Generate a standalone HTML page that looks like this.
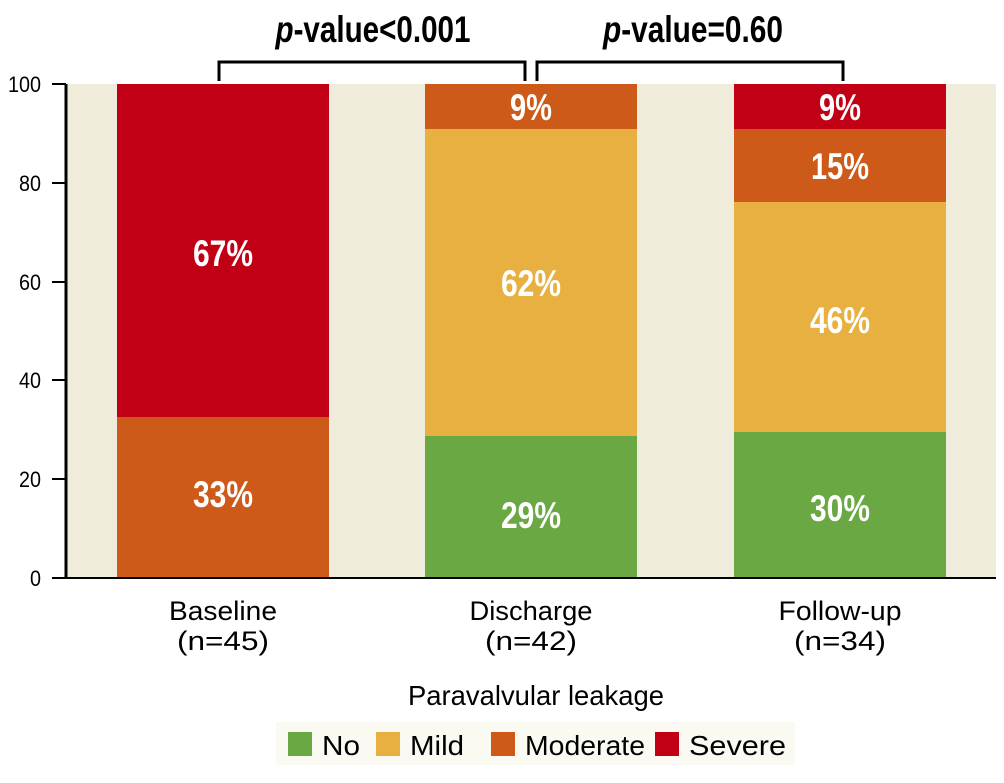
<!DOCTYPE html>
<html><head><meta charset="utf-8"><style>
html,body{margin:0;padding:0;background:#fff;}
svg text{font-family:"Liberation Sans Narrow","Liberation Sans",sans-serif;}
</style></head><body>
<svg width="1004" height="778" viewBox="0 0 1004 778" xmlns="http://www.w3.org/2000/svg">
<rect x="66" y="84" width="930" height="494" fill="#f0ecdb"/>
<rect x="117" y="84" width="212" height="333" fill="#c20015"/>
<rect x="117" y="417" width="212" height="161" fill="#cd5a18"/>
<rect x="425" y="84" width="212" height="45" fill="#cd5a18"/>
<rect x="425" y="129" width="212" height="307" fill="#e8b040"/>
<rect x="425" y="436" width="212" height="142" fill="#69a843"/>
<rect x="734" y="84" width="212" height="45" fill="#c20015"/>
<rect x="734" y="129" width="212" height="73" fill="#cd5a18"/>
<rect x="734" y="202" width="212" height="230" fill="#e8b040"/>
<rect x="734" y="432" width="212" height="146" fill="#69a843"/>
<line x1="66" y1="84" x2="66" y2="579" stroke="#000" stroke-width="3"/>
<line x1="65" y1="578" x2="996" y2="578" stroke="#000" stroke-width="2"/>
<g stroke="#000" stroke-width="2">
<line x1="52" y1="84" x2="66" y2="84"/><line x1="52" y1="183" x2="66" y2="183"/>
<line x1="52" y1="282" x2="66" y2="282"/><line x1="52" y1="380" x2="66" y2="380"/>
<line x1="52" y1="479" x2="66" y2="479"/><line x1="52" y1="578" x2="66" y2="578"/>
</g>
<g font-size="22" text-anchor="end" fill="#000">
<text x="41" y="92" textLength="33" lengthAdjust="spacingAndGlyphs">100</text>
<text x="41" y="191" textLength="22" lengthAdjust="spacingAndGlyphs">80</text>
<text x="41" y="290" textLength="22" lengthAdjust="spacingAndGlyphs">60</text>
<text x="41" y="388" textLength="22" lengthAdjust="spacingAndGlyphs">40</text>
<text x="41" y="487" textLength="22" lengthAdjust="spacingAndGlyphs">20</text>
<text x="41" y="586" textLength="11" lengthAdjust="spacingAndGlyphs">0</text>
</g>
<g font-size="37" font-weight="bold" fill="#fff" text-anchor="middle" lengthAdjust="spacingAndGlyphs">
<text x="223" y="266" textLength="60" lengthAdjust="spacingAndGlyphs">67%</text>
<text x="223" y="507" textLength="60" lengthAdjust="spacingAndGlyphs">33%</text>
<text x="531" y="120" textLength="42" lengthAdjust="spacingAndGlyphs">9%</text>
<text x="531" y="296" textLength="60" lengthAdjust="spacingAndGlyphs">62%</text>
<text x="531" y="528" textLength="60" lengthAdjust="spacingAndGlyphs">29%</text>
<text x="840" y="120" textLength="42" lengthAdjust="spacingAndGlyphs">9%</text>
<text x="840" y="179" textLength="58" lengthAdjust="spacingAndGlyphs">15%</text>
<text x="840" y="333" textLength="60" lengthAdjust="spacingAndGlyphs">46%</text>
<text x="840" y="521" textLength="60" lengthAdjust="spacingAndGlyphs">30%</text>
</g>
<g font-size="27" fill="#000" text-anchor="middle">
<text x="223" y="620" textLength="108" lengthAdjust="spacingAndGlyphs">Baseline</text>
<text x="223" y="650" textLength="92" lengthAdjust="spacingAndGlyphs">(n=45)</text>
<text x="531" y="620" textLength="123" lengthAdjust="spacingAndGlyphs">Discharge</text>
<text x="531" y="650" textLength="92" lengthAdjust="spacingAndGlyphs">(n=42)</text>
<text x="840" y="620" textLength="123" lengthAdjust="spacingAndGlyphs">Follow-up</text>
<text x="840" y="650" textLength="92" lengthAdjust="spacingAndGlyphs">(n=34)</text>
</g>
<g stroke="#000" stroke-width="3" fill="none">
<polyline points="219,81 219,62 525,62 525,81"/>
<polyline points="537,81 537,62 843,62 843,81"/>
</g>
<g font-size="37" font-weight="bold" fill="#000" text-anchor="middle">
<text x="373" y="42" textLength="195" lengthAdjust="spacingAndGlyphs"><tspan font-style="italic">p</tspan>-value&lt;0.001</text>
<text x="693" y="42" textLength="180" lengthAdjust="spacingAndGlyphs"><tspan font-style="italic">p</tspan>-value=0.60</text>
</g>
<text x="536" y="705" font-size="28" text-anchor="middle" fill="#000" textLength="256" lengthAdjust="spacingAndGlyphs">Paravalvular leakage</text>
<rect x="276" y="722" width="519" height="43" fill="#fafaf3"/>
<rect x="288" y="732" width="24" height="24" fill="#69a843"/>
<text x="322" y="755" font-size="28" textLength="38" lengthAdjust="spacingAndGlyphs">No</text>
<rect x="376" y="732" width="24" height="24" fill="#e8b040"/>
<text x="410" y="755" font-size="28" textLength="54" lengthAdjust="spacingAndGlyphs">Mild</text>
<rect x="491" y="732" width="24" height="24" fill="#cd5a18"/>
<text x="525" y="755" font-size="28" textLength="120" lengthAdjust="spacingAndGlyphs">Moderate</text>
<rect x="655" y="732" width="24" height="24" fill="#c20015"/>
<text x="689" y="755" font-size="28" textLength="97" lengthAdjust="spacingAndGlyphs">Severe</text>
</svg>
</body></html>
